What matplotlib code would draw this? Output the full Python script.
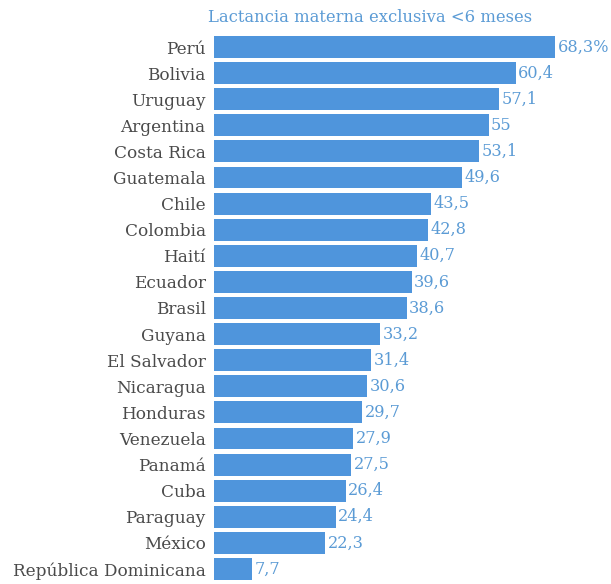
import matplotlib
matplotlib.use("Agg")
import matplotlib.pyplot as plt

paises = ["Perú", "Bolivia", "Uruguay", "Argentina", "Costa Rica", "Guatemala",
          "Chile", "Colombia", "Haití", "Ecuador", "Brasil", "Guyana",
          "El Salvador", "Nicaragua", "Honduras", "Venezuela", "Panamá",
          "Cuba", "Paraguay", "México", "República Dominicana"]
valores = [68.3, 60.4, 57.1, 55, 53.1, 49.6, 43.5, 42.8, 40.7, 39.6, 38.6,
           33.2, 31.4, 30.6, 29.7, 27.9, 27.5, 26.4, 24.4, 22.3, 7.7]
etiquetas = ["68,3%", "60,4", "57,1", "55", "53,1", "49,6", "43,5", "42,8",
             "40,7", "39,6", "38,6", "33,2", "31,4", "30,6", "29,7", "27,9",
             "27,5", "26,4", "24,4", "22,3", "7,7"]
titulo = "Lactancia materna exclusiva <6 meses"

bar_color = "#4f95dc"
txt_blue = "#5b9bd5"
fuente = "DejaVu Serif"

fig = plt.figure(figsize=(6.11, 5.84), dpi=100)
ax = fig.add_axes([214/611, 2/584, 341/611, 548/584])

y = list(range(len(paises)))
ax.barh(y, valores, height=0.84, color=bar_color)
ax.set_xlim(0, 68.3)
ax.set_ylim(20.5, -0.5)

for yi, v, lab in zip(y, valores, etiquetas):
    ax.text(v + 0.5, yi, lab, va="center", ha="left", color=txt_blue,
            fontsize=11.6, family=fuente, clip_on=False)

ax.set_yticks(y)
ax.set_yticklabels(paises, fontsize=12.2, family=fuente, color="#4a4a4a")
ax.tick_params(axis="y", length=0, pad=6)
ax.set_xticks([])
for s in ax.spines.values():
    s.set_visible(False)

fig.text(370/611, 1 - 18/584, titulo, ha="center", va="center", color=txt_blue,
         fontsize=11.75, family=fuente)

fig.savefig("out.png", dpi=100)
